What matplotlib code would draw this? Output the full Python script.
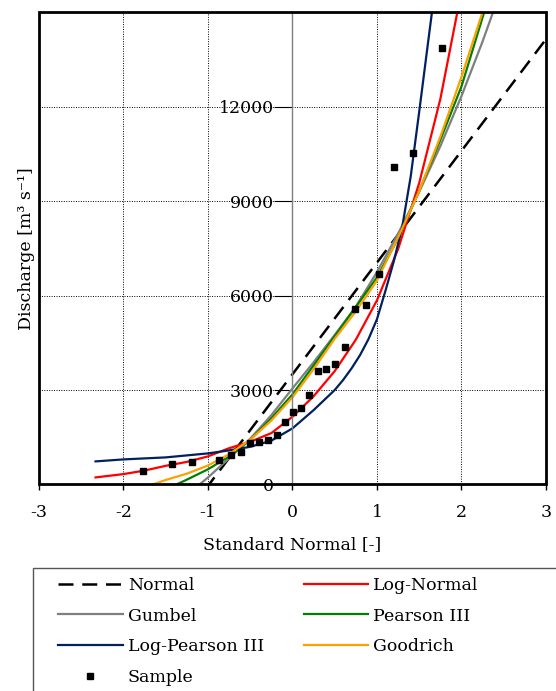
import matplotlib
matplotlib.use('Agg')
import matplotlib.pyplot as plt
from matplotlib.patches import Rectangle

plt.rcParams['font.family'] = ['DejaVu Serif']

# sample (standard normal variate, discharge)
sample_z = [-1.767, -1.422, -1.193, -0.866, -0.731, -0.609, -0.503, -0.393,
            -0.286, -0.187, -0.089, 0.01, 0.10, 0.199, 0.302, 0.40, 0.507,
            0.621, 0.743, 0.874, 1.027, 1.205, 1.43, 1.773]
sample_q = [423, 645, 699, 762, 931, 1017, 1322, 1354, 1408, 1567, 1970, 2288,
            2435, 2848, 3601, 3664, 3833, 4354, 5581, 5688, 6674, 10093, 10529,
            13875]

# fitted curves
normal_z = [-1.2, 3.0]
normal_q = [-760, 14150]

lognorm_z = [-2.33, -2.0, -1.75, -1.5, -1.25, -1.0, -0.75, -0.5, -0.25, 0,
             0.25, 0.5, 0.75, 1.0, 1.25, 1.5, 1.75, 2.0]
lognorm_q = [222, 327, 440, 590, 715, 890, 1150, 1354, 1630, 2150, 2800, 3600,
             4600, 5850, 7480, 9580, 12250, 15680]

gumbel_z = [-1.25, -1.0, -0.75, -0.5, -0.25, 0, 0.25, 0.5, 0.75, 1.0, 1.25,
            1.5, 1.75, 2.0, 2.25, 2.5]
gumbel_q = [-340, 220, 830, 1450, 2200, 3050, 3880, 4750, 5650, 6750, 7970,
            9300, 10750, 12340, 14080, 15960]

p3_z = [-1.5, -1.37, -1.25, -1.0, -0.75, -0.5, -0.25, 0, 0.25, 0.5, 0.75,
        1.0, 1.25, 1.5, 1.75, 2.0, 2.27]
p3_q = [-150, 0, 150, 480, 880, 1415, 2100, 2860, 3780, 4710, 5640, 6580,
        7820, 9330, 10950, 12650, 15020]

lp3_z = [-2.33, -2.0, -1.5, -1.0, -0.75, -0.5, -0.25, 0, 0.25, 0.5, 0.6, 0.7,
         0.8, 0.9, 1.0, 1.1, 1.2, 1.3, 1.4, 1.5, 1.6, 1.66]
lp3_q = [731, 794, 858, 985, 1080, 1195, 1390, 1780, 2360, 3000, 3320, 3690,
         4110, 4620, 5250, 6150, 7100, 8200, 9800, 11850, 13950, 15200]

goodrich_z = [-1.8, -1.65, -1.5, -1.25, -1.0, -0.75, -0.5, -0.25, 0, 0.25,
              0.5, 0.75, 1.0, 1.25, 1.5, 1.75, 2.0, 2.25]
goodrich_q = [-200, 0, 140, 340, 600, 960, 1420, 2030, 2770, 3660, 4630,
              5500, 6480, 7850, 9320, 11050, 12950, 15020]

x_ticks = [-3, -2, -1, 0, 1, 2, 3]
y_ticks = [0, 3000, 6000, 9000, 12000]

fig = plt.figure(figsize=(5.56, 6.91), dpi=100)
ax = fig.add_axes([0.070, 0.299, 0.912, 0.683])

ax.grid(True, ls=(0, (1, 1.5)), color='black', lw=0.7)
ax.set_axisbelow(True)

l_norm, = ax.plot(normal_z, normal_q, color='black', lw=1.8, dashes=(6, 3.5), label='Normal')
l_ln, = ax.plot(lognorm_z, lognorm_q, color='#ff0000', lw=1.6, label='Log-Normal')
l_gum, = ax.plot(gumbel_z, gumbel_q, color='#7f7f7f', lw=1.6, label='Gumbel')
l_p3, = ax.plot(p3_z, p3_q, color='#008000', lw=1.6, label='Pearson III')
l_lp3, = ax.plot(lp3_z, lp3_q, color='#002060', lw=1.6, label='Log-Pearson III')
l_good, = ax.plot(goodrich_z, goodrich_q, color='#ffa000', lw=1.6, label='Goodrich')
l_samp, = ax.plot(sample_z, sample_q, ls='none', marker='s', ms=5, color='black', label='Sample', zorder=6)

ax.set_xlim(-3, 3)
ax.set_ylim(0, 15000)
ax.set_xticks(x_ticks)
ax.set_xticklabels([str(t) for t in x_ticks])
ax.set_yticks(y_ticks)

# y axis crosses at x = 0
ax.spines['left'].set_position(('data', 0))
ax.spines['left'].set_color('#7f7f7f')
ax.spines['left'].set_linewidth(1)
for s in ['top', 'right', 'bottom']:
    ax.spines[s].set_visible(False)
ax.add_patch(Rectangle((0, 0), 1, 1, transform=ax.transAxes, fill=False,
                       ec='black', lw=2, clip_on=False, zorder=7))

ax.tick_params(axis='x', direction='out', length=4, width=1, pad=10, labelsize=12.5)
ax.tick_params(axis='y', direction='out', length=13, width=0.8, pad=0.5, labelsize=12.5)

ax.set_xlabel('Standard Normal [-]', fontsize=12.5)
ax.set_ylabel('Discharge [m³ s⁻¹]', fontsize=12.5)
ax.xaxis.set_label_coords(0.5, -0.11)
ax.yaxis.set_label_coords(-0.008, 0.5)

# legend box runs off the figure edge in the original
fig.add_artist(Rectangle((0.0594, -0.1), 1.0, 0.278, transform=fig.transFigure,
                         fill=False, ec='#555555', lw=1))
fig.legend(handles=[l_norm, l_gum, l_lp3, l_samp, l_ln, l_p3, l_good],
           loc='upper left', bbox_to_anchor=(0.105, 0.165), ncol=2,
           frameon=False, fontsize=12.5, handlelength=3.7, handletextpad=0.3,
           columnspacing=2.3, labelspacing=0.78, borderpad=0, borderaxespad=0)

fig.savefig('out.png', dpi=100)
